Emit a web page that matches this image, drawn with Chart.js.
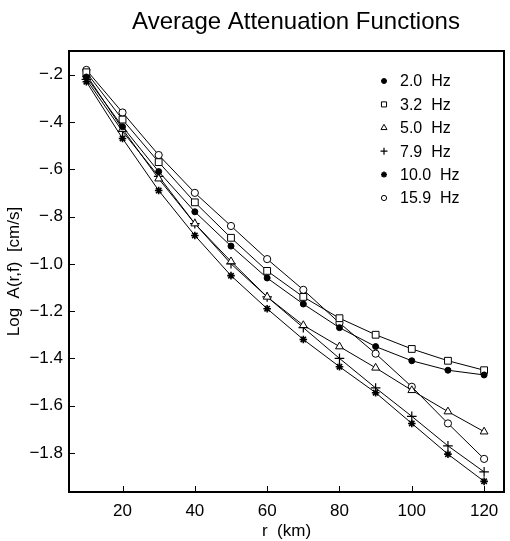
<!DOCTYPE html>
<html>
<head>
<meta charset="utf-8">
<script src="https://cdn.jsdelivr.net/npm/chart.js@4/dist/chart.umd.min.js"></script>
<style>
  html, body { margin: 0; padding: 0; background: #fff; }
  #wrap { width: 510px; height: 541px; }
</style>
</head>
<body>
<div id="wrap"><canvas id="atten-chart" width="510" height="541"></canvas></div>
<script>
// distances (km) and log amplitude
const distances = [10, 20, 30, 40, 50, 60, 70, 80, 90, 100, 110, 120];
const freqLabels = ['2.0  Hz', '3.2  Hz', '5.0  Hz', '7.9  Hz', '10.0  Hz', '15.9  Hz'];
const logA_2_0 = [-0.21, -0.42, -0.61, -0.78, -0.925, -1.06, -1.17, -1.27, -1.35, -1.41, -1.45, -1.47];
const logA_3_2 = [-0.19, -0.39, -0.57, -0.74, -0.89, -1.03, -1.14, -1.23, -1.30, -1.36, -1.41, -1.45];
const logA_5_0 = [-0.20, -0.43, -0.64, -0.83, -0.99, -1.14, -1.26, -1.35, -1.44, -1.535, -1.625, -1.71];
const logA_7_9 = [-0.22, -0.44, -0.63, -0.83, -1.00, -1.14, -1.27, -1.40, -1.525, -1.645, -1.77, -1.88];
const logA_10_0 = [-0.23, -0.47, -0.69, -0.88, -1.05, -1.19, -1.32, -1.435, -1.545, -1.675, -1.805, -1.92];
const logA_15_9 = [-0.18, -0.36, -0.54, -0.70, -0.84, -0.98, -1.11, -1.25, -1.38, -1.52, -1.675, -1.825];
const xTicks = [20, 40, 60, 80, 100, 120];
const yTicks = [-0.2, -0.4, -0.6, -0.8, -1.0, -1.2, -1.4, -1.6, -1.8];
const yTickLabels = ['\u2212.2', '\u2212.4', '\u2212.6', '\u2212.8', '\u22121.0', '\u22121.2', '\u22121.4', '\u22121.6', '\u22121.8'];
const chartTitle = 'Average Attenuation Functions';

const FONT = '"Liberation Sans", Arial, Helvetica, sans-serif';

// marker style for each frequency (r = plot radius, lr = legend radius)
const markers = [
  { style: 'circle', fill: '#000', width: 1, r: 3, lr: 2.5 },
  { style: 'rect', fill: '#fff', width: 1, r: 4.8, lr: 3.6 },
  { style: 'triangle', fill: '#fff', width: 1, r: 4.5, lr: 3.5 },
  { style: 'cross', fill: '#fff', width: 1.2, r: 4.8, lr: 3.5 },
  { style: 'star', fill: '#000', width: 1.6, r: 3.8, lr: 3 },
  { style: 'circle', fill: '#fff', width: 1, r: 3.6, lr: 2.6 }
];
const seriesValues = [logA_2_0, logA_3_2, logA_5_0, logA_7_9, logA_10_0, logA_15_9];

const datasets = seriesValues.map((vals, i) => ({
  label: freqLabels[i],
  data: distances.map((d, j) => ({ x: d, y: vals[j] })),
  borderColor: '#000',
  borderWidth: 1,
  tension: 0,
  pointStyle: markers[i].style,
  pointRadius: markers[i].r,
  pointBorderWidth: markers[i].width,
  pointBorderColor: '#000',
  pointBackgroundColor: markers[i].fill
}));

function drawMarker(ctx, m, x, y, r) {
  ctx.strokeStyle = '#000';
  ctx.fillStyle = m.fill;
  ctx.lineWidth = m.width;
  if (Chart.helpers && Chart.helpers.drawPoint) {
    Chart.helpers.drawPoint(ctx, { pointStyle: m.style, radius: r, rotation: 0, borderWidth: m.width }, x, y);
  } else {
    ctx.beginPath();
    ctx.arc(x, y, r, 0, Math.PI * 2);
    ctx.fill();
    ctx.stroke();
  }
}

// frame, inward ticks, title and legend
const framePlugin = {
  id: 'frame',
  afterDraw(chart) {
    const { ctx, chartArea: a, scales } = chart;
    ctx.save();
    ctx.strokeStyle = '#000';
    ctx.lineWidth = 2;
    ctx.strokeRect(a.left, a.top, a.right - a.left, a.bottom - a.top);

    ctx.lineWidth = 1;
    ctx.beginPath();
    scales.x.ticks.forEach(t => {
      const px = Math.round(scales.x.getPixelForValue(t.value)) + 0.5;
      ctx.moveTo(px, a.bottom);
      ctx.lineTo(px, a.bottom - 6);
    });
    scales.y.ticks.forEach(t => {
      const py = Math.round(scales.y.getPixelForValue(t.value)) + 0.5;
      ctx.moveTo(a.left, py);
      ctx.lineTo(a.left + 6, py);
    });
    ctx.stroke();

    ctx.fillStyle = '#000';
    ctx.font = '24px ' + FONT;
    ctx.textAlign = 'center';
    ctx.textBaseline = 'alphabetic';
    ctx.fillText(chartTitle, 296, 29);

    // legend
    ctx.font = '16px ' + FONT;
    ctx.textAlign = 'left';
    ctx.textBaseline = 'middle';
    freqLabels.forEach((lab, i) => {
      const ly = 81 + i * 23.4;
      drawMarker(ctx, markers[i], 384, ly, markers[i].lr);
      ctx.fillStyle = '#000';
      ctx.fillText(lab, 400, ly + 1);
    });
    ctx.restore();
  }
};

new Chart(document.getElementById('atten-chart'), {
  type: 'line',
  data: { datasets: datasets },
  options: {
    responsive: false,
    animation: false,
    layout: { padding: { top: 51, right: 2, left: 0, bottom: 0 } },
    plugins: {
      legend: { display: false },
      title: { display: false },
      tooltip: { enabled: false }
    },
    scales: {
      x: {
        type: 'linear',
        min: 5.2,
        max: 125.5,
        afterBuildTicks: s => { s.ticks = xTicks.map(v => ({ value: v })); },
        afterFit: s => { s.height = 49; },
        grid: { display: false, drawTicks: false },
        border: { display: false },
        ticks: { color: '#000', padding: 9, font: { size: 17, family: FONT } },
        title: {
          display: true,
          text: 'r  (km)',
          color: '#000',
          font: { size: 17, family: FONT },
          padding: { top: 0, bottom: -1 }
        }
      },
      y: {
        type: 'linear',
        min: -1.965,
        max: -0.1,
        afterBuildTicks: s => { s.ticks = yTicks.map(v => ({ value: v })); },
        afterFit: s => { s.width = 69; },
        grid: { display: false, drawTicks: false },
        border: { display: false },
        ticks: {
          color: '#000',
          padding: 6,
          font: { size: 17, family: FONT },
          callback: v => {
            const k = yTicks.findIndex(t => Math.abs(t - v) < 1e-6);
            return k >= 0 ? yTickLabels[k] : '';
          }
        },
        title: {
          display: true,
          text: 'Log  A(r,f)  [cm/s]',
          color: '#000',
          font: { size: 17, family: FONT },
          padding: { top: 4, bottom: 0 }
        }
      }
    }
  },
  plugins: [framePlugin]
});
</script>
</body>
</html>
